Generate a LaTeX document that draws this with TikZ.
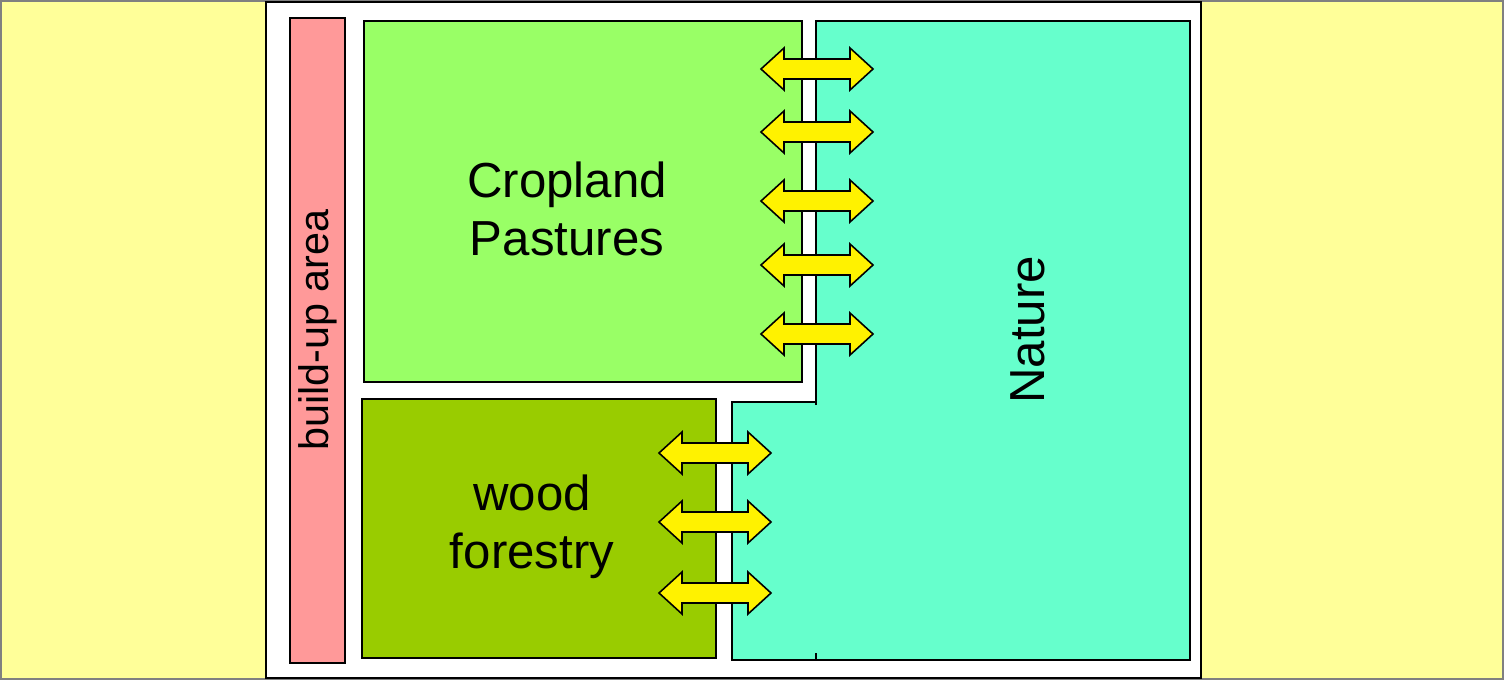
\documentclass[tikz,border=0pt]{standalone}
\usepackage{fontspec}
\setmainfont{Liberation Sans}
\begin{document}
\begin{tikzpicture}[x=0.02cm,y=-0.02cm,
  area/.style={draw=black,line width=1.4pt},
  lbl/.style={font=\fontsize{28}{33}\selectfont,align=center},
  pics/darrow/.style={code={
    \filldraw[fill=yellow,draw=black,line width=0.9pt]
      (-56,0) -- (-33,-21) -- (-33,-10) -- (33,-10) -- (33,-21) -- (56,0)
      -- (33,21) -- (33,10) -- (-33,10) -- (-33,21) -- cycle;}}]
\useasboundingbox (0,0) rectangle (1504,680);
\filldraw[fill={rgb,255:red,255;green,255;blue,153},draw=gray,line width=1.5pt] (1,1) rectangle (1503,679);
\filldraw[fill=white,draw=black,line width=1pt] (266,2) rectangle (1201,678);
\filldraw[area,fill={rgb,255:red,255;green,153;blue,153}] (290,18) rectangle (345,663);
\filldraw[area,fill={rgb,255:red,153;green,255;blue,102}] (364,21) rectangle (802,382);
\filldraw[area,fill={rgb,255:red,153;green,204;blue,0}] (362,399) rectangle (716,658);
\fill[fill={rgb,255:red,102;green,255;blue,204}] (816,21) -- (1190,21) -- (1190,660) -- (732,660) -- (732,402) -- (816,402) -- cycle;
\draw[line width=1.4pt] (816,405) -- (816,21) -- (1190,21) -- (1190,660) -- (732,660) -- (732,402) -- (816,402);
\draw[line width=1pt] (816,653) -- (816,660);
\node[lbl,rotate=90] (bt) at (318,330) {\fontsize{23.5}{28}\selectfont build-up area};
\node[lbl] (cp) at (567,209) {Cropland\\Pastures};
\node[lbl] (wf) at (532,527) {wood\\forestry};
\node[lbl,rotate=90] (na) at (1028,330) {Nature};
\foreach \y in {69,132,201,265,334} \pic at (817,\y) {darrow};
\foreach \y in {453,522,593} \pic at (715,\y) {darrow};
\end{tikzpicture}
\end{document}
